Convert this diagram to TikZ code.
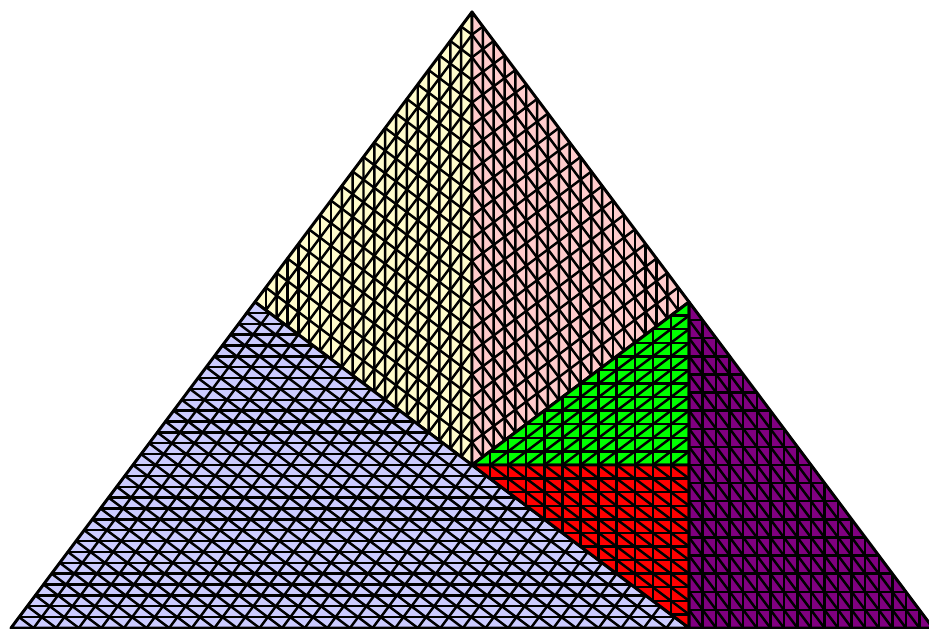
\documentclass[tikz,border=0pt]{standalone}
\usepackage{xcolor}
\usepackage{tikz}
\usetikzlibrary{calc}
\definecolor{mypurple}{HTML}{800080}
\tikzset{
  % Linee della mesh
  mesh line/.style={black,line width=0.7pt,line cap=round},
  patch edge/.style={black,line width=0.85pt,line join=round},
  % Colori dei sottodomini
  patch 1/.style={fill=yellow!20},
  patch 2/.style={fill=red!20},
  patch 3/.style={fill=blue!20},
  patch 4/.style={fill=green},
  patch 5/.style={fill=red},
  patch 6/.style={fill=mypurple}
}
% Triangolo (#1,#2,#3) diviso in #4^2 triangoli, stile #5
\newcommand{\meshpatch}[5]{%
  \fill[#5] (#1) -- (#2) -- (#3) -- cycle;
  \pgfmathtruncatemacro{\lastk}{#4-1}
  \foreach \k in {1,...,\lastk}{
    \draw[mesh line] ($(#1)!\k/#4!(#2)$) -- ($(#1)!\k/#4!(#3)$);
    \draw[mesh line] ($(#2)!\k/#4!(#3)$) -- ($(#2)!\k/#4!(#1)$);
    \draw[mesh line] ($(#3)!\k/#4!(#1)$) -- ($(#3)!\k/#4!(#2)$);
  }
  \draw[patch edge] (#1) -- (#2) -- (#3) -- cycle;
}

\begin{document}
\begin{tikzpicture}
    \clip (0,0) rectangle (9.29,6.29);
    \useasboundingbox (0,0) rectangle (9.29,6.29);
    % Vertici del dominio
    \coordinate (T) at (4.72,6.17);
    \coordinate (L) at (0.11,0.01);
    \coordinate (R) at (9.33,0.01);
    \coordinate (P) at ($(T)!0.4708!(L)$);
    \coordinate (Q) at ($(T)!0.4708!(R)$);
    \coordinate (S) at (Q |- L);
    \coordinate (C) at ($(P)!0.5!(S)$);
    \coordinate (M) at (Q |- C);
    % Sottodomini
    \meshpatch{T}{P}{C}{20}{patch 1}
    \meshpatch{T}{Q}{C}{20}{patch 2}
    \meshpatch{L}{P}{S}{30}{patch 3}
    \meshpatch{C}{Q}{M}{12}{patch 4}
    \meshpatch{C}{M}{S}{12}{patch 5}
    \meshpatch{Q}{R}{S}{18}{patch 6}
  \end{tikzpicture}
\end{document}
